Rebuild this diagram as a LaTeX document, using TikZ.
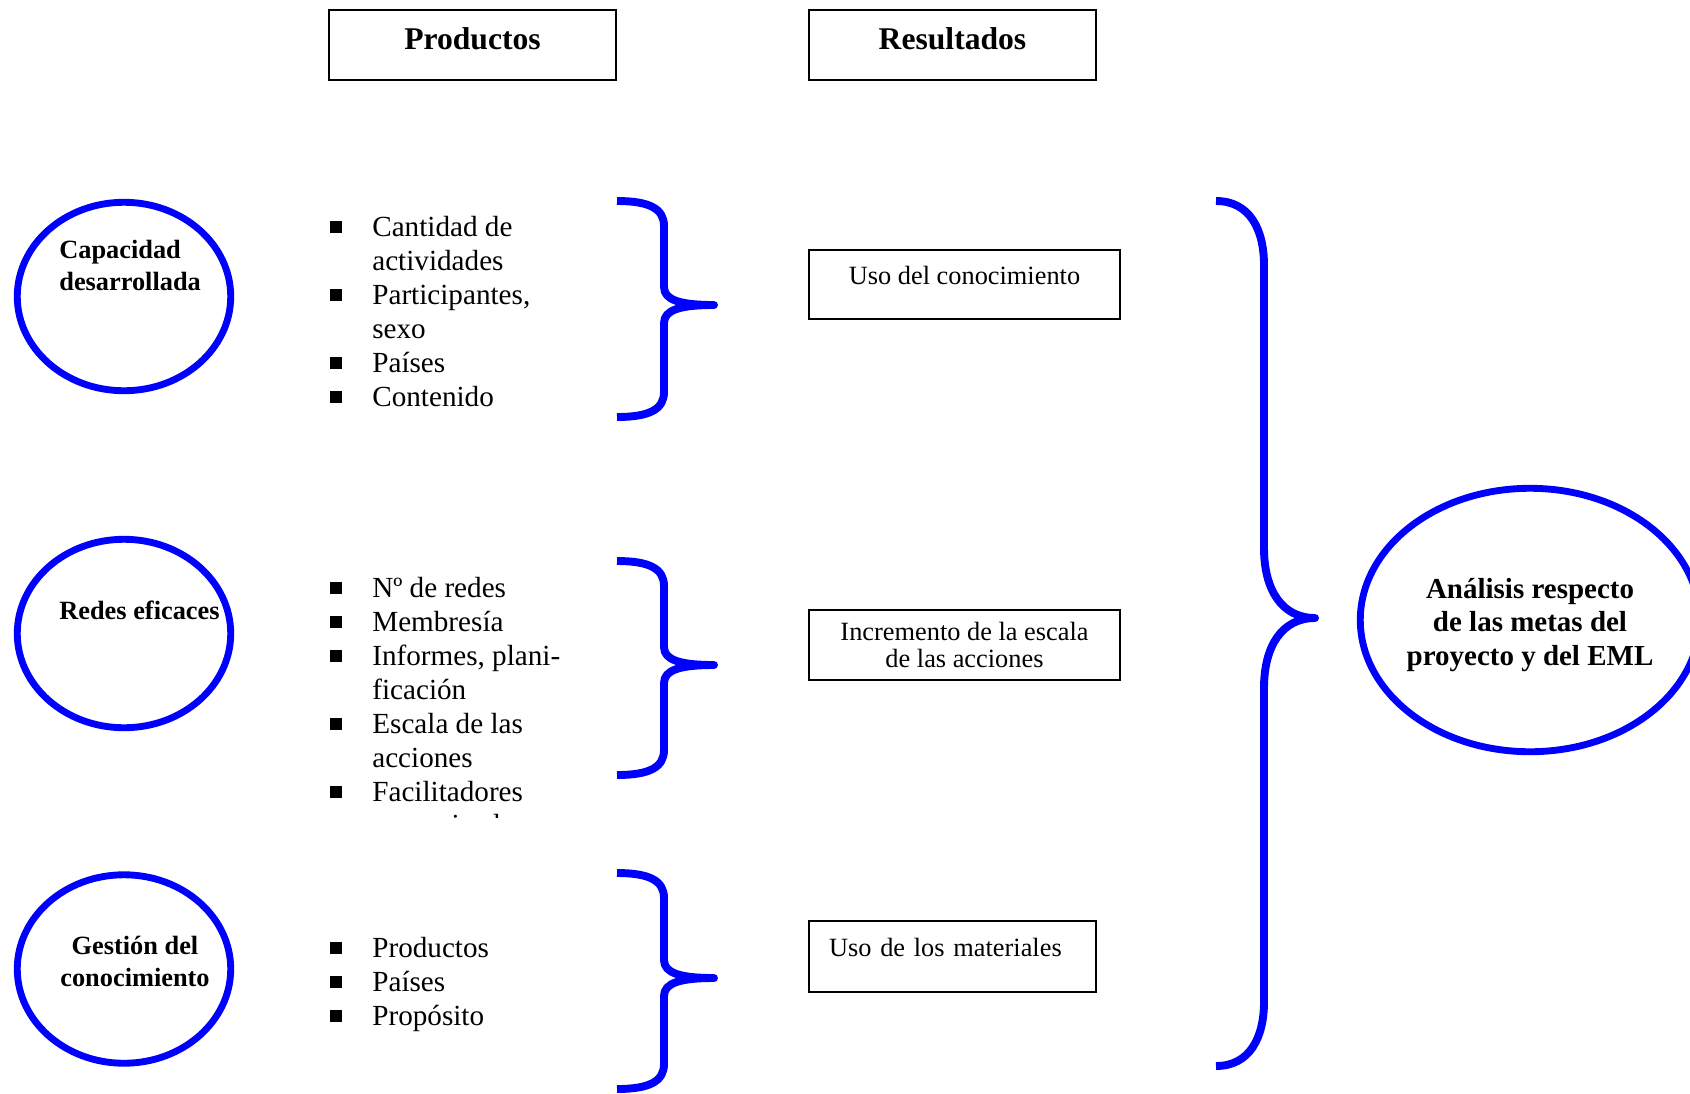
\documentclass[tikz,border=0pt]{standalone}
\usepackage{fontspec}
\setmainfont{Liberation Serif}
\usetikzlibrary{shapes.geometric}

\newcommand{\bul}{\makebox[23.9pt][l]{\rule[1.8pt]{6.8pt}{6.8pt}}}
\newcommand{\ind}{\hspace*{23.9pt}}

\begin{document}
\begin{tikzpicture}[x=0.02cm,y=-0.02cm,
    box/.style={shape=rectangle,draw=black,line width=1.1pt,inner sep=0pt},
    titulo/.style={box,minimum width=5.74cm,minimum height=1.4cm,text depth=7.5pt,font=\bfseries\fontsize{18}{21}\selectfont},
    resbox/.style={box,font=\fontsize{15}{15.5}\selectfont},
    circ/.style={shape=ellipse,draw=blue,line width=3.9pt,inner sep=0pt,minimum width=4.27cm,minimum height=3.77cm},
    etiq/.style={inner sep=0pt,font=\bfseries\fontsize{15}{18}\selectfont},
    lista/.style={anchor=north west,align=left,inner sep=0pt,font=\fontsize{16.6}{19.3}\selectfont},
    brc/.style={draw=blue,line width=4.5pt,line join=round}]
        \clip (0,0) rectangle (1690,1093);
        \node[titulo] (prod) at (472.5,45) {Productos};
        \node[titulo] (res) at (952.5,45) {Resultados};

        \node[circ] (cap) at (124,296.5) {};
        \node[etiq,anchor=north west,align=left] (capt) at (59,240) {Capacidad\\desarrollada};
        \node[circ] (red) at (124,633.5) {};
        \node[etiq,anchor=north west] (redt) at (59,601) {Redes eficaces};
        \node[circ] (ges) at (124,969) {};
        \node[etiq,anchor=north,align=center] (gest) at (135,936) {Gestión del\\conocimiento};

        \node[lista] (lis1) at (330,216) {\bul Cantidad de\\\ind actividades\\\bul Participantes,\\\ind sexo\\\bul Países\\\bul Contenido};
        \begin{scope}
        \clip (300,540) rectangle (720,817);
        \node[lista] (lis2) at (330,577) {\bul Nº de redes\\\bul Membresía\\\bul Informes, plani-\\\ind ficación\\\bul Escala de las\\\ind acciones\\\bul Facilitadores\\\ind comunicadores};
        \end{scope}
        \node[lista] (lis3) at (330,937) {\bul Productos\\\bul Países\\\bul Propósito};

        \draw[brc] (617,201) .. controls (650,201) and (664,209) .. (664,226) -- (664,287) .. controls (664,300) and (680,305) .. (714,305) .. controls (680,305) and (664,310) .. (664,323) -- (664,392) .. controls (664,409) and (650,417) .. (617,417);
        \draw[brc] (617,561) .. controls (650,561) and (664,569) .. (664,586) -- (664,647) .. controls (664,660) and (680,665) .. (714,665) .. controls (680,665) and (664,670) .. (664,683) -- (664,750) .. controls (664,767) and (650,775) .. (617,775);
        \draw[brc] (617,873) .. controls (650,873) and (664,881) .. (664,898) -- (664,960) .. controls (664,973) and (680,978) .. (714,978) .. controls (680,978) and (664,983) .. (664,996) -- (664,1064) .. controls (664,1081) and (650,1089) .. (617,1089);

        \node[resbox,minimum width=6.22cm,minimum height=1.38cm,text height=10pt,text depth=10pt] (uso) at (964.5,284.5) {Uso del conocimiento};
        \node[resbox,minimum width=6.22cm,minimum height=1.4cm,align=center] (incr) at (964.5,645) {Incremento de la escala\\de las acciones};
        \node[resbox,minimum width=5.74cm,minimum height=1.42cm,inner xsep=0.4cm,text width=4.94cm,align=left,text height=10pt,text depth=10pt] (mat) at (952.5,956.5) {Uso de los materiales};

        \draw[brc] (1216,201) .. controls (1250,201) and (1264,230) .. (1264,265) -- (1264,548) .. controls (1264,590) and (1282,618) .. (1315,618) .. controls (1282,618) and (1264,646) .. (1264,688) -- (1264,1002) .. controls (1264,1037) and (1250,1066) .. (1216,1066);

        \node[circ,minimum width=6.79cm,minimum height=5.27cm] (anal) at (1530,620) {};
        \node[align=center,inner sep=0pt,font=\bfseries\fontsize{16.5}{19}\selectfont] (analt) at (1530,625) {Análisis respecto\\de las metas del\\proyecto y del EML};
\end{tikzpicture}
\end{document}
